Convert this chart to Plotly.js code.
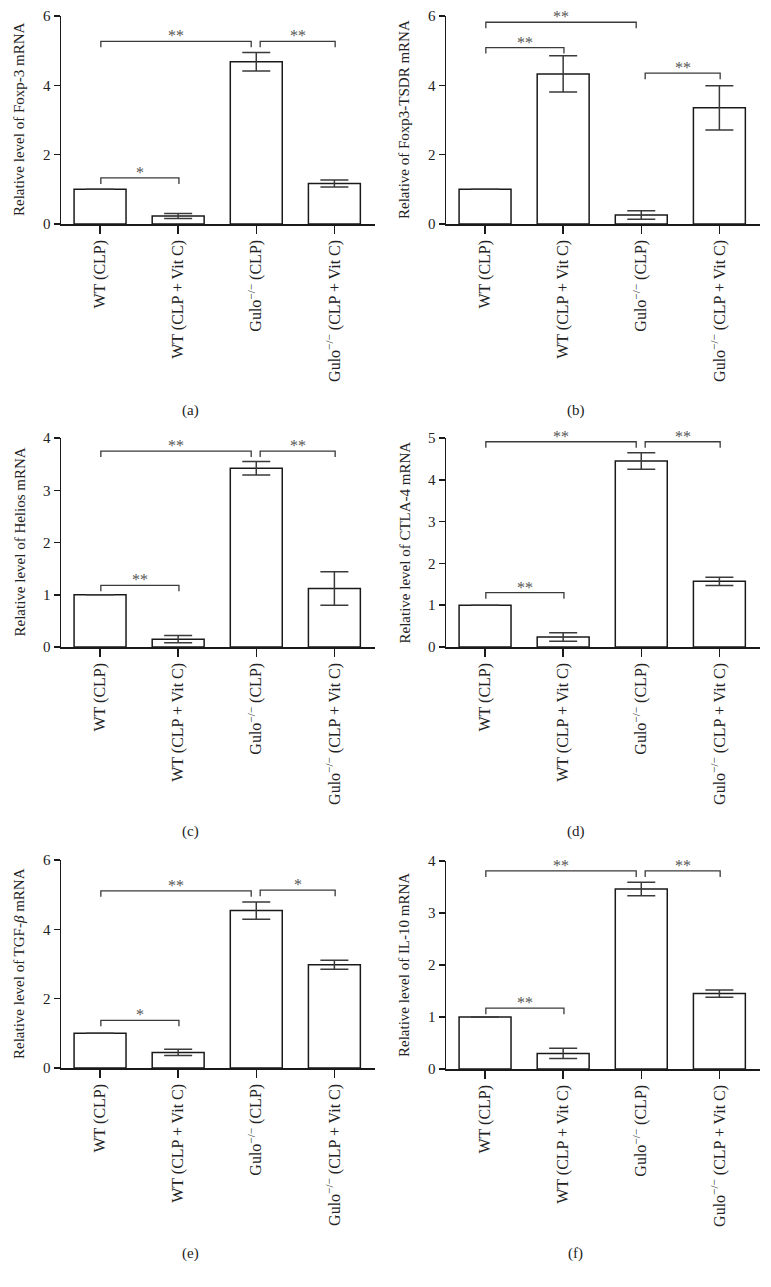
<!DOCTYPE html>
<html>
<head>
<meta charset="utf-8">
<script src="https://cdn.plot.ly/plotly-3.0.1.min.js"></script>
<style>html,body{margin:0;padding:0;background:#fff;}#chart{width:771px;height:1287px;}</style>
</head>
<body>
<div id="chart"></div>
<script>
// ---- Data ----
const categories = ['WT (CLP)', 'WT (CLP + Vit C)', 'Gulo<sup>\u2212/\u2212</sup> (CLP)', 'Gulo<sup>\u2212/\u2212</sup> (CLP + Vit C)'];

const foxp3Values = [1.0, 0.23, 4.68, 1.17];
const foxp3Errors = [0, 0.07, 0.27, 0.10];
const tsdrValues = [1.0, 4.33, 0.26, 3.35];
const tsdrErrors = [0, 0.52, 0.12, 0.64];
const heliosValues = [1.0, 0.15, 3.42, 1.12];
const heliosErrors = [0, 0.07, 0.13, 0.32];
const ctla4Values = [1.0, 0.24, 4.45, 1.57];
const ctla4Errors = [0, 0.10, 0.20, 0.10];
const tgfbValues = [1.0, 0.45, 4.54, 2.98];
const tgfbErrors = [0, 0.09, 0.25, 0.13];
const il10Values = [1.0, 0.30, 3.46, 1.45];
const il10Errors = [0, 0.10, 0.13, 0.07];

// significance brackets: [from category, to category, level, label]
const foxp3Brackets = [[0, 2, 5.27, '**'], [2, 3, 5.27, '**'], [0, 1, 1.33, '*']];
const tsdrBrackets = [[0, 2, 5.82, '**'], [0, 1, 5.09, '**'], [2, 3, 4.35, '**']];
const heliosBrackets = [[0, 2, 3.75, '**'], [2, 3, 3.75, '**'], [0, 1, 1.18, '**']];
const ctla4Brackets = [[0, 2, 4.91, '**'], [2, 3, 4.91, '**'], [0, 1, 1.30, '**']];
const tgfbBrackets = [[0, 2, 5.11, '**'], [2, 3, 5.13, '*'], [0, 1, 1.375, '*']];
const il10Brackets = [[0, 2, 3.81, '**'], [2, 3, 3.81, '**'], [0, 1, 1.17, '**']];

const yTitles = ['Relative level of Foxp-3 mRNA', 'Relative of Foxp3-TSDR mRNA', 'Relative level of Helios mRNA',
  'Relative level of CTLA-4 mRNA', 'Relative level of TGF-<i>\u03b2</i> mRNA', 'Relative level of IL-10 mRNA'];
const yMax = [6, 6, 4, 5, 6, 4];
const yDtick = [2, 2, 1, 1, 2, 1];
const panelLabels = ['(a)', '(b)', '(c)', '(d)', '(e)', '(f)'];

// ---- Layout geometry (pixels) ----
const W = 771, H = 1287;
const boxes = [
  [61, 375, 16, 224], [446, 760, 16, 224],
  [61, 375, 438, 647], [446, 760, 438, 647],
  [61, 375, 860, 1068], [446, 760, 861, 1069]
];
const titleX = [19, 404, 19, 404, 19, 404];
const labelPos = [[190, 410], [576, 410], [190, 831], [576, 831], [190, 1253], [575, 1253]];

const allValues = [foxp3Values, tsdrValues, heliosValues, ctla4Values, tgfbValues, il10Values];
const allErrors = [foxp3Errors, tsdrErrors, heliosErrors, ctla4Errors, tgfbErrors, il10Errors];
const allBrackets = [foxp3Brackets, tsdrBrackets, heliosBrackets, ctla4Brackets, tgfbBrackets, il10Brackets];

const FONT = 'Liberation Serif, Times New Roman, serif';
const px = x => x / W;
const py = y => 1 - y / H;

const traces = [];
const layout = {
  width: W, height: H,
  margin: {l: 0, r: 0, t: 0, b: 0},
  paper_bgcolor: '#fff', plot_bgcolor: '#fff',
  showlegend: false,
  font: {family: FONT, size: 14, color: '#111'},
  shapes: [], annotations: []
};

const xRange = [-0.5, 3.52];

for (let i = 0; i < 6; i++) {
  const n = i === 0 ? '' : String(i + 1);
  const xa = 'x' + n, ya = 'y' + n;
  const [l, r, t, b] = boxes[i];
  traces.push({
    type: 'bar', x: categories, y: allValues[i], xaxis: xa, yaxis: ya,
    width: 0.665,
    marker: {color: '#fff', line: {color: '#1a1a1a', width: 1.5}},
    error_y: {type: 'data', array: allErrors[i], visible: true, color: '#3a3a3a', thickness: 1.5, width: 14},
    hoverinfo: 'skip'
  });
  layout['xaxis' + n] = {
    domain: [px(l), px(r)], anchor: ya, type: 'category', range: xRange,
    showline: true, linecolor: '#1a1a1a', linewidth: 1.5, mirror: false,
    ticks: 'outside', ticklen: 8, tickwidth: 1.5, tickcolor: '#1a1a1a',
    tickangle: -90, tickfont: {family: FONT, size: 16, color: '#222'},
    showgrid: false, zeroline: false, fixedrange: true
  };
  layout['yaxis' + n] = {
    domain: [py(b), py(t)], anchor: xa, range: [0, yMax[i]], dtick: yDtick[i], tick0: 0,
    showline: true, linecolor: '#1a1a1a', linewidth: 1.5,
    ticks: 'outside', ticklen: 6, tickwidth: 1.5, tickcolor: '#1a1a1a',
    tickfont: {family: FONT, size: 15, color: '#222'},
    showgrid: false, zeroline: false, fixedrange: true
  };
  // y axis title
  layout.annotations.push({
    xref: 'paper', yref: 'paper', x: px(titleX[i]), y: py((t + b) / 2),
    text: yTitles[i], textangle: -90, showarrow: false,
    xanchor: 'center', yanchor: 'middle',
    font: {family: FONT, size: 15, color: '#222'}
  });
  // panel label
  layout.annotations.push({
    xref: 'paper', yref: 'paper', x: px(labelPos[i][0]), y: py(labelPos[i][1]),
    text: panelLabels[i], showarrow: false, xanchor: 'center', yanchor: 'middle',
    font: {family: FONT, size: 15, color: '#222'}
  });
  // significance brackets
  const drop = 6 / (b - t) * yMax[i];
  allBrackets[i].forEach(([a0, a1, lev, lab]) => {
    const x0 = a0 + (a0 === 2 ? 0.05 : 0.01);
    const x1 = a1 - (a1 === 2 ? 0.065 : -0.01);
    layout.shapes.push({
      type: 'path', xref: xa, yref: ya,
      path: `M ${x0} ${lev - drop} L ${x0} ${lev} L ${x1} ${lev} L ${x1} ${lev - drop}`,
      line: {color: '#3a3a3a', width: 1.3}
    });
    layout.annotations.push({
      xref: xa, yref: ya, x: (x0 + x1) / 2, y: lev, text: lab, showarrow: false,
      xanchor: 'center', yanchor: 'bottom', yshift: -5,
      font: {family: FONT, size: 16, color: '#555555'}
    });
  });
}

Plotly.newPlot('chart', traces, layout, {staticPlot: true, displayModeBar: false});
</script>
</body>
</html>
